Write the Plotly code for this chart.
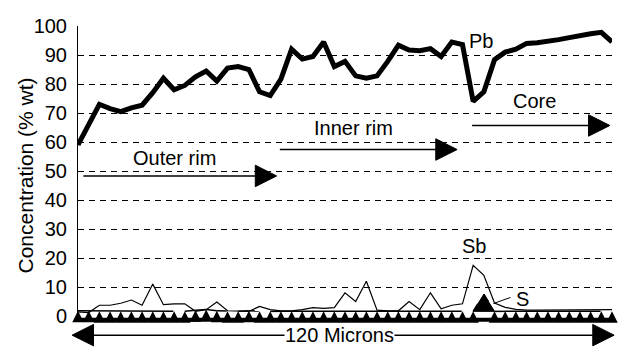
import plotly.graph_objects as go

# ---- data (x = measurement index along the 120-micron traverse) ----
positions = list(range(51))
pb = [59, 66, 73, 71.5, 70.5, 71.8, 72.7, 77, 82, 78, 79.5, 82.5, 84.5, 81, 85.5, 86, 85,
      77.3, 76, 81.7, 92, 88.6, 89.5, 94.5, 86, 87.8, 82.8, 82, 82.8, 87.8, 93.4, 91.7,
      91.5, 92.2, 89.5, 94.5, 93.6, 74, 77.3, 88.4, 91, 92, 94, 94.2, 94.6, 95.3, 96,
      96.8, 97.3, 97.8, 94.5]
sb = [1.4, 1.2, 3.7, 3.7, 4.4, 5.5, 3.7, 11, 3.9, 4.2, 4.2, 1.6, 2.2, 4.8, 1.8, 1.6, 1.6,
      3.3, 2.2, 1.8, 1.8, 2.2, 2.9, 2.6, 2.9, 8, 5, 12, 2, 1.8, 1.8, 5, 2.2, 8, 2.5, 3.7,
      4.2, 17.5, 14, 4.5, 3, 2.3, 2, 2, 2, 2, 2, 2, 2, 2, 2.2]
s = [1.8, 1.8, 1.6, 1.6, 1.6, 1.6, 1.6, 1.6, 1.6, 1.6, 1.6, 2.0, 2.2, 1.8, 1.6, 1.6,
     1.8, 1.6, 1.6, 1.6, 1.6, 1.6, 1.6, 1.6, 1.6, 1.6, 1.6, 1.6, 1.6, 1.6, 1.6, 1.6,
     1.6, 1.6, 1.6, 1.6, 1.6, 1.6, 7.5, 1.6, 1.6, 1.6, 1.6, 1.6, 1.6, 1.6, 1.6, 1.6,
     1.6, 1.6, 1.6]
y_ticks = [0, 10, 20, 30, 40, 50, 60, 70, 80, 90, 100]

X_MAX = 50
Y_MAX = 100
FONT = "Liberation Sans, Arial, sans-serif"
PAGE_OFFSET = 8  # default body margin of the html page

fig = go.Figure()

# S: filled peak (built from the S series around its maximum)
peak = max(range(len(s)), key=lambda i: s[i])
pk_idx = [peak - 1, peak, peak + 1]
fig.add_trace(go.Scatter(x=[positions[i] for i in pk_idx] + [positions[pk_idx[0]]],
                         y=[s[i] for i in pk_idx] + [s[pk_idx[0]]],
                         mode="lines", fill="toself", fillcolor="black",
                         line=dict(color="black", width=1), showlegend=False,
                         hoverinfo="skip"))
fig.add_trace(go.Scatter(x=positions, y=s, mode="lines+markers",
                         line=dict(color="black", width=1.5),
                         marker=dict(symbol="arrow-up", size=11.5, color="black",
                                     line=dict(width=0)),
                         cliponaxis=False, showlegend=False))
fig.add_trace(go.Scatter(x=positions, y=sb, mode="lines",
                         line=dict(color="black", width=1.2), showlegend=False))
fig.add_trace(go.Scatter(x=positions, y=pb, mode="lines",
                         line=dict(color="black", width=5), showlegend=False))


def px(x):
    return x / X_MAX


def py(y):
    return y / Y_MAX


def arrow(x0, x1, y, head_len=2.0, head_half=3.7, both=False):
    shapes = [dict(type="line", xref="paper", yref="paper",
                   x0=px(x0 + (head_len if both else 0)), x1=px(x1 - head_len),
                   y0=py(y), y1=py(y), line=dict(color="black", width=1.5))]
    path = (f"M {px(x1)} {py(y)} L {px(x1 - head_len)} {py(y + head_half)} "
            f"L {px(x1 - head_len)} {py(y - head_half)} Z")
    shapes.append(dict(type="path", xref="paper", yref="paper", path=path,
                       fillcolor="black", line=dict(color="black", width=1)))
    if both:
        path2 = (f"M {px(x0)} {py(y)} L {px(x0 + head_len)} {py(y + head_half)} "
                 f"L {px(x0 + head_len)} {py(y - head_half)} Z")
        shapes.append(dict(type="path", xref="paper", yref="paper", path=path2,
                           fillcolor="black", line=dict(color="black", width=1)))
    return shapes


shapes = []
# base strip under the S markers
shapes.append(dict(type="line", xref="paper", yref="paper", x0=px(-0.1), x1=px(50.1),
                   y0=py(-1.3), y1=py(-1.3), line=dict(color="black", width=4),
                   layer="above"))
# extend the y axis line slightly below zero, as in the original
shapes.append(dict(type="line", xref="paper", yref="paper", x0=0, x1=0,
                   y0=py(-1.5), y1=py(0), line=dict(color="black", width=1)))
shapes += arrow(0.5, 18.6, 48.3)
shapes += arrow(18.9, 35.5, 57.4)
shapes += arrow(36.9, 49.8, 65.7)
shapes += arrow(-0.55, 50.2, -6.6, both=True)
shapes.append(dict(type="line", xref="x", yref="y", x0=38.9, y0=4.3, x1=40.5, y1=6.4,
                   line=dict(color="black", width=1)))

ann_font = dict(family=FONT, size=20, color="black")
annotations = [
    dict(x=37.7, y=95.0, text="Pb"),
    dict(x=9.0, y=54.5, text="Outer rim"),
    dict(x=25.8, y=64.8, text="Inner rim"),
    dict(x=42.7, y=74.1, text="Core"),
    dict(x=37.1, y=24.3, text="Sb"),
    dict(x=41.6, y=6.0, text="S"),
]
for a in annotations:
    a.update(xref="x", yref="y", showarrow=False, font=ann_font,
             xanchor="center", yanchor="middle")
annotations.append(dict(x=px(24.5), y=py(-6.6), xref="paper", yref="paper",
                        text="120 Microns", showarrow=False, font=ann_font,
                        bgcolor="white", borderpad=0,
                        xanchor="center", yanchor="middle"))
annotations.append(dict(x=-0.099, y=0.485, xref="paper", yref="paper",
                        text="Concentration (% wt)", textangle=-90, showarrow=False,
                        font=dict(family=FONT, size=21, color="black"),
                        xanchor="center", yanchor="middle"))

fig.update_layout(
    width=626 - PAGE_OFFSET, height=350 - PAGE_OFFSET,
    margin=dict(l=78 - PAGE_OFFSET, r=14, t=15 - PAGE_OFFSET, b=34),
    paper_bgcolor="white", plot_bgcolor="white",
    shapes=shapes, annotations=annotations,
    xaxis=dict(range=[0, X_MAX], showgrid=False, zeroline=False, showline=False,
               showticklabels=False, ticks=""),
    yaxis=dict(range=[0, Y_MAX], tickvals=y_ticks, ticktext=[str(v) for v in y_ticks],
               showgrid=True, gridcolor="black", gridwidth=1, griddash="6px,5px",
               zeroline=False, showline=True, linecolor="black", linewidth=1,
               ticks="", ticklabelstandoff=6, ticklabeloverflow="allow",
               tickfont=dict(family=FONT, size=20, color="black")),
)

fig.write_html("out.html")
